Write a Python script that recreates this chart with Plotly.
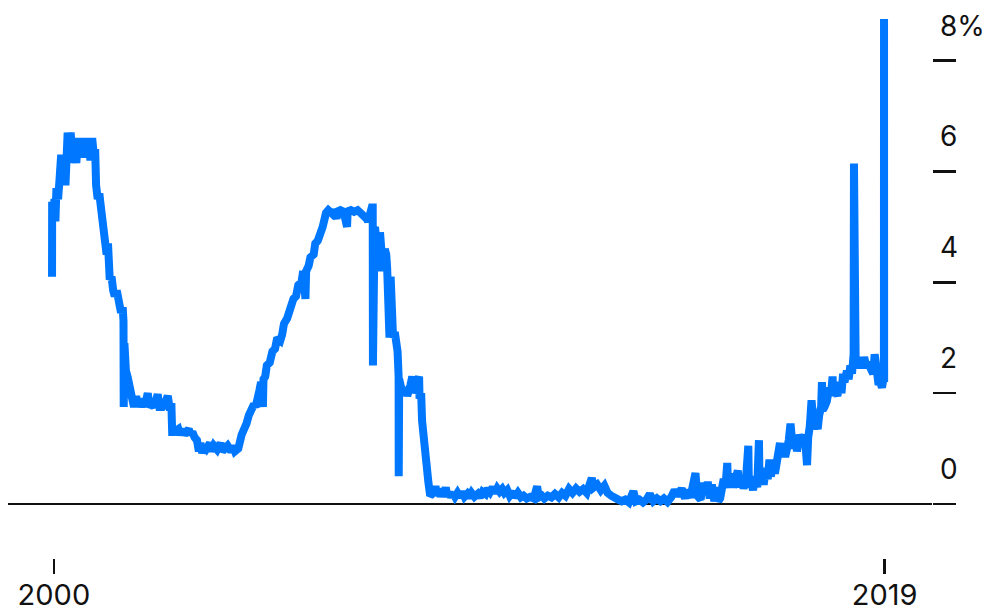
import plotly.graph_objects as go

# ---- data ----
dates = [
    "2000-01-03", "2000-01-04", "2000-01-14", "2000-01-24", "2000-02-01", "2000-02-10", "2000-02-24",
    "2000-03-06", "2000-03-22", "2000-03-31", "2000-04-12", "2000-04-28", "2000-05-10", "2000-05-17",
    "2000-05-31", "2000-06-12", "2000-06-30", "2000-07-14", "2000-07-31", "2000-08-15", "2000-08-31",
    "2000-09-15", "2000-09-29", "2000-10-13", "2000-10-31", "2000-11-15", "2000-11-30", "2000-12-15",
    "2000-12-29",
    "2001-01-04", "2001-01-10", "2001-01-18", "2001-02-01", "2001-02-15", "2001-03-01", "2001-03-21",
    "2001-04-05", "2001-04-19", "2001-05-01", "2001-05-16", "2001-06-01", "2001-06-15", "2001-06-28",
    "2001-07-16", "2001-07-31", "2001-08-22", "2001-09-05", "2001-09-12", "2001-09-14", "2001-09-20",
    "2001-10-03", "2001-10-17", "2001-11-07", "2001-11-21", "2001-12-12", "2001-12-31",
    "2002-01-10", "2002-01-31", "2002-02-15", "2002-03-01", "2002-03-20", "2002-04-10", "2002-04-25",
    "2002-05-15", "2002-06-03", "2002-06-28", "2002-07-05", "2002-07-20", "2002-08-15", "2002-09-03",
    "2002-09-30", "2002-10-15", "2002-11-01", "2002-11-07", "2002-11-25", "2002-12-31",
    "2003-01-15", "2003-02-03", "2003-02-20", "2003-03-10", "2003-03-31", "2003-04-15", "2003-05-01",
    "2003-05-20", "2003-06-10", "2003-06-26", "2003-07-10", "2003-07-25", "2003-08-15", "2003-09-01",
    "2003-09-30", "2003-10-15", "2003-11-03", "2003-12-01", "2003-12-31",
    "2004-01-15", "2004-02-02", "2004-03-01", "2004-03-31", "2004-04-15", "2004-05-03", "2004-06-01",
    "2004-06-30", "2004-07-15", "2004-08-11", "2004-08-31", "2004-09-22", "2004-10-15", "2004-10-29",
    "2004-11-11", "2004-12-01", "2004-12-15", "2004-12-31",
    "2005-01-05", "2005-01-20", "2005-02-03", "2005-02-28", "2005-03-23", "2005-04-15", "2005-05-04",
    "2005-05-31", "2005-06-15", "2005-07-01", "2005-07-29", "2005-08-10", "2005-08-31", "2005-09-21",
    "2005-10-14", "2005-11-02", "2005-11-30", "2005-12-14",
    "2006-01-03", "2006-01-09", "2006-01-31", "2006-02-15", "2006-03-15", "2006-03-29", "2006-04-20",
    "2006-05-11", "2006-06-01", "2006-06-30", "2006-07-20", "2006-08-15", "2006-09-01", "2006-09-29",
    "2006-10-10", "2006-11-01", "2006-11-30", "2006-12-29",
    "2007-01-03", "2007-01-31", "2007-02-28", "2007-03-30", "2007-04-30", "2007-05-31", "2007-06-15",
    "2007-06-29", "2007-07-16", "2007-07-31", "2007-08-08", "2007-08-10", "2007-08-14", "2007-08-20",
    "2007-08-28", "2007-09-10", "2007-09-19", "2007-10-01", "2007-10-10", "2007-10-31", "2007-11-05",
    "2007-11-20", "2007-12-03", "2007-12-11", "2007-12-20", "2007-12-31",
    "2008-01-10", "2008-01-23", "2008-01-31", "2008-02-15", "2008-02-28", "2008-03-10", "2008-03-19",
    "2008-03-20", "2008-03-24", "2008-04-10", "2008-04-30", "2008-05-15", "2008-06-02", "2008-06-30",
    "2008-07-15", "2008-07-31", "2008-08-15", "2008-08-29", "2008-09-12", "2008-09-16", "2008-09-30",
    "2008-10-08", "2008-10-20", "2008-10-30", "2008-11-15", "2008-12-01", "2008-12-17",
    "2009-01-15", "2009-02-01", "2009-02-15", "2009-03-02", "2009-03-16", "2009-04-01", "2009-04-15",
    "2009-05-01", "2009-05-15", "2009-06-01", "2009-06-15", "2009-07-01", "2009-07-20", "2009-08-10",
    "2009-09-01", "2009-09-20", "2009-10-10", "2009-11-02", "2009-11-20", "2009-12-10",
    "2010-01-04", "2010-02-01", "2010-02-20", "2010-03-15", "2010-04-10", "2010-04-30", "2010-05-20",
    "2010-06-10", "2010-07-01", "2010-07-20", "2010-08-10", "2010-09-01", "2010-09-20", "2010-10-15",
    "2010-11-05", "2010-12-01", "2010-12-20",
    "2011-01-15", "2011-02-10", "2011-03-05", "2011-04-01", "2011-05-01", "2011-06-01", "2011-06-30",
    "2011-07-15", "2011-08-10", "2011-09-01", "2011-10-01", "2011-11-01", "2011-12-01",
    "2012-01-03", "2012-02-01", "2012-03-01", "2012-04-01", "2012-05-01", "2012-06-01", "2012-07-01",
    "2012-08-01", "2012-09-01", "2012-10-15", "2012-11-01", "2012-12-01",
    "2013-01-01", "2013-02-01", "2013-03-01", "2013-04-01", "2013-05-01", "2013-06-01", "2013-07-01",
    "2013-08-01", "2013-09-01", "2013-10-10", "2013-11-01", "2013-12-01",
    "2014-01-01", "2014-02-01", "2014-03-01", "2014-04-01", "2014-05-01", "2014-06-01", "2014-07-01",
    "2014-08-01", "2014-09-01", "2014-10-01", "2014-11-01", "2014-12-01", "2014-12-31",
    "2015-01-15", "2015-02-15", "2015-03-31", "2015-04-15", "2015-05-15", "2015-06-01", "2015-06-30",
    "2015-07-15", "2015-08-01", "2015-08-20", "2015-09-10", "2015-09-30", "2015-10-15", "2015-10-30",
    "2015-11-16", "2015-11-30", "2015-12-15", "2015-12-17", "2015-12-31",
    "2016-01-05", "2016-01-20", "2016-02-05", "2016-02-20", "2016-03-10", "2016-03-31", "2016-04-15",
    "2016-05-02", "2016-05-20", "2016-06-10", "2016-06-30", "2016-07-05", "2016-07-20", "2016-08-10",
    "2016-08-30", "2016-09-15", "2016-09-30", "2016-10-05", "2016-10-20", "2016-11-10", "2016-11-30",
    "2016-12-15", "2016-12-30",
    "2017-01-10", "2017-01-31", "2017-02-15", "2017-02-28", "2017-03-16", "2017-03-31", "2017-04-10",
    "2017-04-28", "2017-05-15", "2017-05-31", "2017-06-15", "2017-06-30", "2017-07-05", "2017-07-20",
    "2017-08-10", "2017-08-25", "2017-09-15", "2017-09-29", "2017-10-10", "2017-10-31", "2017-11-20",
    "2017-11-30", "2017-12-14", "2017-12-29",
    "2018-01-03", "2018-01-20", "2018-02-05", "2018-02-20", "2018-03-05", "2018-03-22", "2018-03-29",
    "2018-04-05", "2018-04-20", "2018-05-10", "2018-05-31", "2018-06-14", "2018-06-29", "2018-07-05",
    "2018-07-20", "2018-08-10", "2018-08-31", "2018-09-14", "2018-09-28", "2018-10-10", "2018-10-31",
    "2018-11-15", "2018-11-30", "2018-12-14", "2018-12-20", "2018-12-28", "2018-12-31",
    "2019-01-02", "2019-01-15", "2019-01-31", "2019-02-15", "2019-02-28", "2019-03-15", "2019-03-29",
    "2019-04-15", "2019-04-30", "2019-05-15", "2019-05-31", "2019-06-15", "2019-06-28", "2019-07-15",
    "2019-07-31", "2019-08-01", "2019-08-15", "2019-08-30", "2019-09-03", "2019-09-16", "2019-09-17",
    "2019-09-18",
]

rates = [
    4.1, 5.45, 5.2, 5.5, 5.1, 5.7, 5.5,
    5.8, 6.3, 5.8, 6.25, 5.75, 6.3, 6.7,
    6.15, 6.7, 6.2, 6.55, 6.15, 6.6, 6.25,
    6.55, 6.3, 6.6, 6.25, 6.55, 6.2, 6.6,
    6.3,
    6.0, 6.4, 5.75, 5.5, 5.6, 5.35, 5.0,
    4.9, 4.5, 4.7, 4.05, 4.1, 3.85, 3.75,
    3.85, 3.6, 3.45, 3.55, 3.3, 1.75, 2.9,
    2.4, 2.3, 2.0, 1.95, 1.75, 1.95,
    1.75, 1.9, 1.75, 1.85, 1.8, 2.0, 1.75,
    1.8, 1.75, 1.95, 1.98, 1.75, 1.75, 1.8,
    1.95, 1.75, 1.75, 1.3, 1.3, 1.35,
    1.25, 1.35, 1.25, 1.3, 1.35, 1.25, 1.3,
    1.2, 1.15, 0.95, 1.1, 0.92, 1.05, 1.0,
    1.1, 0.95, 1.05, 0.98, 1.1,
    0.95, 1.0, 1.05, 0.95, 1.05, 0.95, 1.0,
    1.25, 1.3, 1.45, 1.6, 1.75, 1.8, 1.75,
    1.95, 2.05, 2.2, 1.75,
    2.25, 2.3, 2.5, 2.55, 2.75, 2.8, 3.0,
    2.95, 3.05, 3.25, 3.35, 3.45, 3.5, 3.7,
    3.75, 3.95, 4.0, 4.2,
    3.7, 4.2, 4.3, 4.45, 4.5, 4.7, 4.75,
    4.95, 5.0, 5.25, 5.3, 5.25, 5.3, 5.15,
    5.28, 5.3, 5.27, 5.0,
    5.28, 5.3, 5.27, 5.3, 5.25, 5.2, 5.15,
    5.1, 5.3, 5.35, 5.35, 2.5, 5.2, 4.3,
    5.0, 4.4, 4.75, 4.2, 4.9, 4.5, 4.2,
    4.6, 4.5, 4.25, 3.9, 3.0,
    4.1, 3.4, 3.0, 3.1, 2.9, 2.75, 2.3,
    0.5, 2.25, 2.1, 2.0, 2.1, 1.95, 2.15,
    2.3, 2.0, 2.1, 2.2, 2.3, 1.9, 2.0,
    1.5, 1.2, 0.9, 0.6, 0.4, 0.15,
    0.2, 0.32, 0.15, 0.28, 0.13, 0.25, 0.15,
    0.3, 0.13, 0.22, 0.12, 0.2, 0.13, 0.2,
    0.12, 0.22, 0.13, 0.18, 0.12, 0.2,
    0.13, 0.18, 0.12, 0.22, 0.18, 0.28, 0.22,
    0.3, 0.2, 0.28, 0.22, 0.27, 0.2, 0.25,
    0.15, 0.22, 0.12,
    0.2, 0.12, 0.15, 0.1, 0.13, 0.1, 0.32,
    0.12, 0.15, 0.1, 0.15, 0.12, 0.18,
    0.12, 0.2, 0.15, 0.27, 0.2, 0.28, 0.22,
    0.27, 0.2, 0.47, 0.3, 0.35,
    0.25, 0.33, 0.2, 0.15, 0.1, 0.08, 0.05,
    0.08, 0.03, 0.23, 0.05, 0.08,
    0.03, 0.08, 0.18, 0.05, 0.1, 0.05, 0.1,
    0.04, 0.12, 0.25, 0.15, 0.28, 0.1,
    0.25, 0.12, 0.56, 0.15, 0.08, 0.38, 0.2,
    0.4, 0.1, 0.35, 0.05, 0.3, 0.05, 0.1,
    0.3, 0.45, 0.3, 0.5, 0.74,
    0.4, 0.3, 0.55, 0.3, 0.45, 0.6, 0.3,
    0.5, 0.28, 0.45, 1.05, 0.3, 0.45, 0.25,
    0.5, 0.3, 1.15, 0.35, 0.55, 0.35, 0.65,
    0.45, 0.8,
    0.5, 0.7, 0.55, 0.8, 0.95, 1.1, 0.85,
    1.05, 0.85, 1.0, 1.15, 1.45, 1.1, 1.0,
    1.2, 0.95, 1.25, 1.1, 1.1, 1.25, 0.7,
    1.2, 1.4, 1.87,
    1.4, 1.35, 1.5, 1.35, 1.6, 1.75, 2.2,
    1.7, 1.75, 1.85, 2.1, 1.95, 2.3, 1.95,
    2.05, 1.95, 2.2, 2.0, 2.35, 2.2, 2.4,
    2.25, 2.5, 2.35, 2.55, 2.7, 6.14,
    2.7, 2.5, 2.65, 2.45, 2.6, 2.45, 2.65,
    2.5, 2.55, 2.45, 2.45, 2.35, 2.7, 2.45,
    2.3, 2.15, 2.2, 2.1, 2.25, 2.3, 8.75,
    2.2,
]

x_tick_vals = ["2000-01-19", "2019-09-22"]
x_tick_text = ["2000", "2019"]
y_tick_vals = [0, 2, 4, 6, 8]
y_tick_text = ["0", "2", "4", "6", "8%"]

BLUE = "#0077ff"
INK = "#111111"
FONT = "Inter"

fig = go.Figure()
fig.add_trace(go.Scatter(
    x=dates, y=rates, mode="lines",
    line=dict(color=BLUE, width=8),
    hoverinfo="skip", showlegend=False,
))

for v, t in zip(y_tick_vals, y_tick_text):
    fig.add_annotation(
        x=1, xref="paper", xanchor="left", xshift=6,
        y=v, yref="y", yanchor="middle", yshift=35,
        text=t, showarrow=False,
        font=dict(family=FONT, size=28, color=INK),
    )

fig.update_layout(
    width=992, height=611,
    margin=dict(l=8, r=60, t=10, b=53),
    paper_bgcolor="white", plot_bgcolor="white",
    showlegend=False,
    font=dict(family=FONT, size=28, color=INK),
    xaxis=dict(
        type="date",
        range=["1998-12-18", "2020-11-05"],
        tickvals=x_tick_vals, ticktext=x_tick_text,
        ticks="outside", ticklen=15, tickwidth=2.5, tickcolor=INK,
        showgrid=False, showline=False, zeroline=False,
        automargin=False,
        ticklabelstandoff=-4,
        tickfont=dict(family=FONT, size=29, color=INK),
    ),
    yaxis=dict(
        range=[-0.974, 8.911],
        side="right",
        tickvals=y_tick_vals,
        ticks="outside", ticklen=23, tickwidth=2.5, tickcolor=INK,
        showticklabels=False,
        showgrid=False, showline=False,
        zeroline=True, zerolinecolor=INK, zerolinewidth=2.5,
        automargin=False,
    ),
)

fig.write_html(
    "out.html",
    config={"displayModeBar": False, "staticPlot": True},
    post_script="document.body.style.margin='0';document.body.style.overflow='hidden';",
)
